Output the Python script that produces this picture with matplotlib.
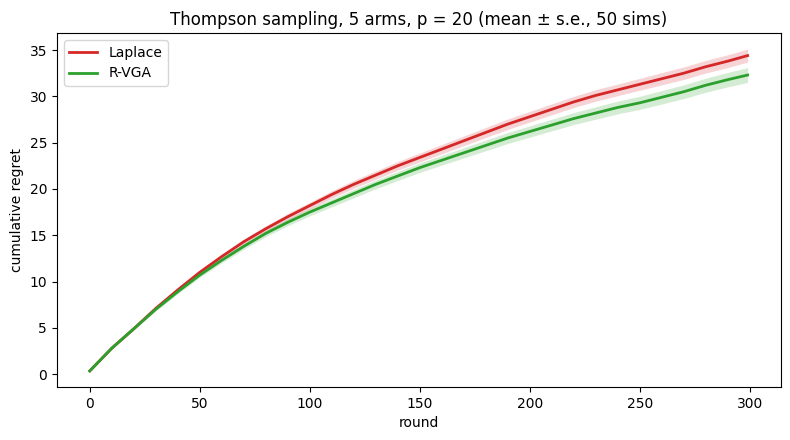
import numpy as np
import matplotlib
matplotlib.use("Agg")
import matplotlib.pyplot as plt

rounds = [0, 10, 20, 30, 40, 50, 60, 70, 80, 90, 100, 110, 120, 130, 140, 150,
          160, 170, 180, 190, 200, 210, 220, 230, 240, 250, 260, 270, 280, 290, 299]

laplace_mean = [0.35, 2.8, 4.9, 7.1, 9.1, 11.0, 12.7, 14.3, 15.7, 17.0, 18.2,
                19.4, 20.5, 21.5, 22.5, 23.4, 24.3, 25.2, 26.1, 27.0, 27.8,
                28.6, 29.4, 30.1, 30.7, 31.3, 31.9, 32.5, 33.2, 33.8, 34.4]
laplace_se = [0.02, 0.08, 0.12, 0.16, 0.2, 0.23, 0.26, 0.29, 0.32, 0.35, 0.37,
              0.4, 0.42, 0.44, 0.46, 0.48, 0.5, 0.52, 0.54, 0.56, 0.57,
              0.59, 0.6, 0.62, 0.63, 0.64, 0.66, 0.67, 0.68, 0.69, 0.7]

rvga_mean = [0.35, 2.8, 4.9, 7.0, 8.9, 10.7, 12.3, 13.8, 15.2, 16.4, 17.5,
             18.5, 19.5, 20.5, 21.4, 22.3, 23.1, 23.9, 24.7, 25.5, 26.2,
             26.9, 27.6, 28.2, 28.8, 29.3, 29.9, 30.5, 31.2, 31.8, 32.3]
rvga_se = [0.02, 0.08, 0.12, 0.17, 0.21, 0.25, 0.28, 0.31, 0.34, 0.37, 0.4,
           0.42, 0.45, 0.47, 0.49, 0.51, 0.53, 0.55, 0.57, 0.59, 0.61,
           0.63, 0.65, 0.67, 0.69, 0.71, 0.73, 0.74, 0.76, 0.78, 0.8]

x = np.array(rounds)
fig, ax = plt.subplots(figsize=(7.9, 4.4), dpi=100)
fig.subplots_adjust(left=0.072, right=0.988, bottom=0.12, top=0.925)

for mean, se, col, lab in [(laplace_mean, laplace_se, "#d62728", "Laplace"),
                           (rvga_mean, rvga_se, "#2ca02c", "R-VGA")]:
    m = np.array(mean)
    s = np.array(se)
    ax.plot(x, m, color=col, lw=2, label=lab)
    ax.fill_between(x, m - s, m + s, color=col, alpha=0.2, lw=0)

ax.set_xlabel("round")
ax.set_ylabel("cumulative regret")
ax.set_title("Thompson sampling, 5 arms, p = 20 (mean ± s.e., 50 sims)")
ax.legend(loc="upper left")
fig.savefig("out.png")
